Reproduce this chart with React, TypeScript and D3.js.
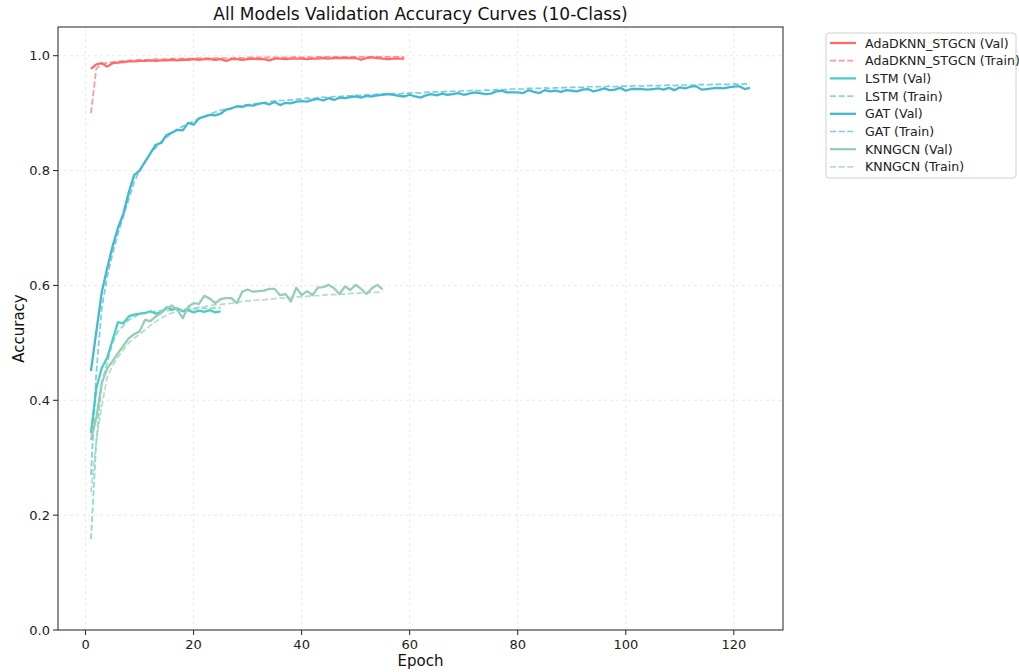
import React from 'react';
import * as d3 from 'd3';

// per-epoch accuracies
const adaVal = [0.977, 0.985, 0.987, 0.981, 0.987, 0.988, 0.989, 0.990, 0.990, 0.991,
  0.991, 0.992, 0.991, 0.992, 0.992, 0.993, 0.992, 0.993, 0.993, 0.994,
  0.993, 0.994, 0.994, 0.993, 0.994, 0.991, 0.994, 0.994, 0.993, 0.994,
  0.995, 0.994, 0.994, 0.992, 0.995, 0.995, 0.994, 0.995, 0.995, 0.995,
  0.994, 0.995, 0.995, 0.996, 0.995, 0.996, 0.996, 0.996, 0.996, 0.996,
  0.993, 0.996, 0.997, 0.996, 0.995, 0.994, 0.995, 0.995, 0.995];
const adaTrain = [0.900, 0.978, 0.985, 0.988, 0.989, 0.990, 0.991, 0.992, 0.992, 0.993,
  0.993, 0.993, 0.994, 0.994, 0.994, 0.995, 0.995, 0.995, 0.995, 0.995,
  0.996, 0.996, 0.996, 0.996, 0.996, 0.996, 0.996, 0.997, 0.996, 0.997,
  0.997, 0.997, 0.997, 0.997, 0.997, 0.997, 0.997, 0.997, 0.998, 0.997,
  0.998, 0.997, 0.998, 0.998, 0.998, 0.998, 0.998, 0.998, 0.998, 0.998,
  0.998, 0.998, 0.998, 0.998, 0.998, 0.998, 0.998, 0.998, 0.998];

const lstmVal = [0.343, 0.421, 0.456, 0.474, 0.505, 0.536, 0.534, 0.546, 0.549, 0.551,
  0.552, 0.555, 0.551, 0.553, 0.562, 0.558, 0.560, 0.555, 0.557, 0.553,
  0.556, 0.554, 0.557, 0.553, 0.555];
const lstmTrain = [0.158, 0.330, 0.430, 0.465, 0.500, 0.520, 0.530, 0.540, 0.545, 0.550,
  0.552, 0.553, 0.555, 0.556, 0.556, 0.557, 0.558, 0.558, 0.559, 0.559,
  0.560, 0.560, 0.560, 0.561, 0.561];

const gatVal = [0.451, 0.520, 0.588, 0.630, 0.668, 0.700, 0.725, 0.762, 0.792, 0.800,
  0.815, 0.830, 0.845, 0.848, 0.862, 0.866, 0.871, 0.870, 0.883, 0.880,
  0.891, 0.894, 0.897, 0.896, 0.899, 0.906, 0.908, 0.912, 0.911, 0.914,
  0.913, 0.916, 0.918, 0.915, 0.920, 0.914, 0.918, 0.917, 0.920, 0.921,
  0.920, 0.923, 0.925, 0.922, 0.926, 0.923, 0.927, 0.926, 0.928, 0.929,
  0.927, 0.930, 0.929, 0.931, 0.932, 0.933, 0.932, 0.930, 0.929, 0.932,
  0.929, 0.927, 0.931, 0.933, 0.931, 0.934, 0.932, 0.933, 0.935, 0.932,
  0.934, 0.936, 0.935, 0.933, 0.934, 0.938, 0.939, 0.936, 0.936, 0.936,
  0.935, 0.940, 0.937, 0.935, 0.940, 0.938, 0.939, 0.937, 0.940, 0.939,
  0.938, 0.941, 0.942, 0.938, 0.940, 0.943, 0.940, 0.941, 0.944, 0.939,
  0.942, 0.942, 0.942, 0.941, 0.942, 0.943, 0.941, 0.944, 0.940, 0.945,
  0.943, 0.946, 0.947, 0.941, 0.942, 0.943, 0.944, 0.943, 0.945, 0.946,
  0.947, 0.942, 0.944];
const gatTrain = [0.270, 0.450, 0.560, 0.615, 0.655, 0.690, 0.720, 0.750, 0.780, 0.800,
  0.815, 0.830, 0.840, 0.850, 0.858, 0.865, 0.872, 0.877, 0.882, 0.886,
  0.890, 0.894, 0.898, 0.902, 0.905, 0.907, 0.909, 0.911, 0.913, 0.915,
  0.916, 0.917, 0.918, 0.920, 0.921, 0.922, 0.922, 0.923, 0.924, 0.925,
  0.926, 0.925, 0.927, 0.928, 0.927, 0.929, 0.929, 0.930, 0.930, 0.931,
  0.931, 0.932, 0.931, 0.933, 0.933, 0.934, 0.934, 0.933, 0.935, 0.935,
  0.936, 0.935, 0.936, 0.937, 0.937, 0.937, 0.938, 0.938, 0.938, 0.939,
  0.939, 0.940, 0.939, 0.940, 0.940, 0.941, 0.941, 0.941, 0.942, 0.942,
  0.942, 0.943, 0.943, 0.943, 0.944, 0.943, 0.944, 0.944, 0.945, 0.945,
  0.945, 0.945, 0.946, 0.946, 0.946, 0.946, 0.947, 0.946, 0.947, 0.947,
  0.947, 0.948, 0.947, 0.948, 0.948, 0.948, 0.948, 0.949, 0.948, 0.949,
  0.949, 0.949, 0.949, 0.950, 0.949, 0.950, 0.950, 0.950, 0.950, 0.951,
  0.950, 0.951, 0.951];

const knnVal = [0.331, 0.370, 0.430, 0.455, 0.468, 0.482, 0.495, 0.508, 0.515, 0.520,
  0.540, 0.538, 0.546, 0.552, 0.560, 0.565, 0.557, 0.543, 0.563, 0.569,
  0.568, 0.582, 0.577, 0.569, 0.576, 0.578, 0.578, 0.569, 0.589, 0.593,
  0.589, 0.590, 0.591, 0.594, 0.594, 0.583, 0.585, 0.572, 0.596, 0.583,
  0.590, 0.583, 0.596, 0.597, 0.601, 0.595, 0.585, 0.598, 0.592, 0.601,
  0.594, 0.585, 0.595, 0.601, 0.593];
const knnTrain = [0.240, 0.330, 0.390, 0.440, 0.460, 0.475, 0.488, 0.500, 0.508, 0.515,
  0.522, 0.530, 0.537, 0.543, 0.548, 0.552, 0.555, 0.557, 0.559, 0.561,
  0.562, 0.563, 0.565, 0.566, 0.567, 0.568, 0.569, 0.570, 0.572, 0.573,
  0.574, 0.575, 0.575, 0.576, 0.577, 0.578, 0.578, 0.579, 0.580, 0.580,
  0.581, 0.582, 0.582, 0.583, 0.584, 0.584, 0.585, 0.585, 0.586, 0.586,
  0.587, 0.587, 0.588, 0.588, 0.589];

const models = ['AdaDKNN_STGCN', 'LSTM', 'GAT', 'KNNGCN'];
const colors = ['#FF6B6B', '#4ECDC4', '#45B7D1', '#96CEB4'];
const valSeries = [adaVal, lstmVal, gatVal, knnVal];
const trainSeries = [adaTrain, lstmTrain, gatTrain, knnTrain];
const xTicks = [0, 20, 40, 60, 80, 100, 120];
const yTicks = [0, 0.2, 0.4, 0.6, 0.8, 1.0];

const W = 1019, H = 672;
const L = 58, R = 783, T = 27, B = 630;
const FONT = '"DejaVu Sans", sans-serif';

export default function App() {
  const x = d3.scaleLinear().domain([-5.1, 129.1]).range([L, R]);
  const y = d3.scaleLinear().domain([0, 1.05]).range([B, T]);
  const line = d3.line<number>().x((d, i) => x(i + 1)).y(d => y(d));

  const legendItems = models.flatMap((m, i) => [
    { label: `${m} (Val)`, color: colors[i], dashed: false },
    { label: `${m} (Train)`, color: colors[i], dashed: true },
  ]);

  return (
    <svg width={W} height={H} style={{ position: 'absolute', left: 0, top: 0, background: '#fff' }}
      fontFamily={FONT}>
      <rect x={0} y={0} width={W} height={H} fill="#fff" />
      <defs>
        <clipPath id="plot"><rect x={L} y={T} width={R - L} height={B - T} /></clipPath>
      </defs>

      {/* grid */}
      <g stroke="#b0b0b0" strokeOpacity={0.35} strokeWidth={0.8} strokeDasharray="3,3">
        {xTicks.map(t => <line key={'gx' + t} x1={x(t)} x2={x(t)} y1={T} y2={B} />)}
        {yTicks.map(t => <line key={'gy' + t} x1={L} x2={R} y1={y(t)} y2={y(t)} />)}
      </g>

      <g clipPath="url(#plot)" fill="none" strokeLinejoin="round">
        {models.map((m, i) => (
          <g key={m}>
            <path d={line(valSeries[i]) || ''} stroke={colors[i]} strokeWidth={2.3} />
            <path d={line(trainSeries[i]) || ''} stroke={colors[i]} strokeWidth={1.7}
              strokeOpacity={0.7} strokeDasharray="6,2.6" />
          </g>
        ))}
      </g>

      {/* frame */}
      <rect x={L} y={T} width={R - L} height={B - T} fill="none" stroke="#222" strokeWidth={1} />

      {/* x axis */}
      <g fontSize={13} fill="#222" textAnchor="middle">
        {xTicks.map(t => (
          <g key={'tx' + t}>
            <line x1={x(t)} x2={x(t)} y1={B} y2={B + 5} stroke="#222" />
            <text x={x(t)} y={B + 19}>{t}</text>
          </g>
        ))}
      </g>
      <g fontSize={13} fill="#222" textAnchor="end">
        {yTicks.map(t => (
          <g key={'ty' + t}>
            <line x1={L - 5} x2={L} y1={y(t)} y2={y(t)} stroke="#222" />
            <text x={L - 8} y={y(t) + 4.5}>{t.toFixed(1)}</text>
          </g>
        ))}
      </g>

      <text x={(L + R) / 2} y={666} fontSize={15} textAnchor="middle" fill="#111">Epoch</text>
      <text transform={`translate(24,${(T + B) / 2}) rotate(-90)`} fontSize={15}
        textAnchor="middle" fill="#111">Accuracy</text>
      <text x={(L + R) / 2} y={20} fontSize={17} textAnchor="middle" fill="#111">
        All Models Validation Accuracy Curves (10-Class)
      </text>

      {/* legend */}
      <rect x={826} y={33} width={190} height={145} rx={3} fill="#fff" stroke="#d0d0d0" strokeWidth={1} />
      {legendItems.map((it, i) => {
        const ly = 43 + i * 17.7;
        return (
          <g key={it.label}>
            <line x1={830} x2={856} y1={ly} y2={ly} stroke={it.color}
              strokeWidth={it.dashed ? 1.7 : 2.3} strokeOpacity={it.dashed ? 0.7 : 1}
              strokeDasharray={it.dashed ? '6,2.6' : undefined} />
            <text x={865} y={ly + 4.5} fontSize={12.6} fill="#222">{it.label}</text>
          </g>
        );
      })}
    </svg>
  );
}
